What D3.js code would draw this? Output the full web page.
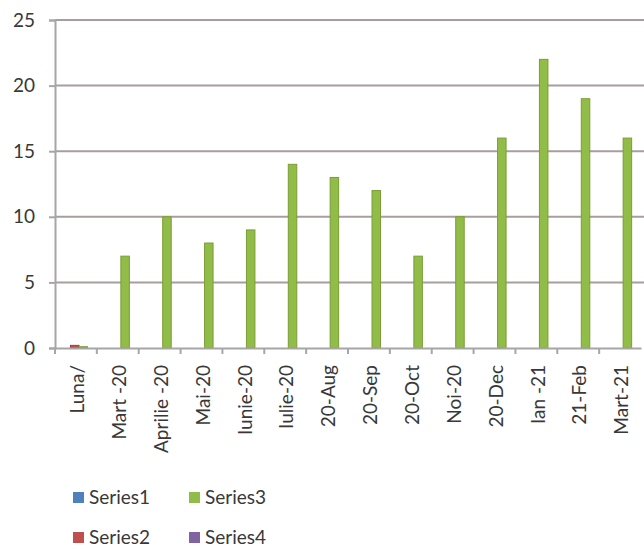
<!DOCTYPE html>
<html>
<head>
<meta charset="utf-8">
<script src="https://cdn.jsdelivr.net/npm/d3@7"></script>
<style>
  body { margin: 0; background: #fff; }
  svg { display: block; font-family: Lato, 'Open Sans', sans-serif; }
</style>
</head>
<body>
<svg width="644" height="549"></svg>
<script>
// categories as written on the axis
let months = ['Luna/', 'Mart -20', 'Aprilie -20', 'Mai-20', 'Iunie-20', 'Iulie-20', '20-Aug',
  '20-Sep', '20-Oct', 'Noi-20', '20-Dec', 'Ian -21', '21-Feb', 'Mart-21']
let seriesNames = ['Series1', 'Series2', 'Series3', 'Series4']
let series1 = [0, 0, 0, 0, 0, 0, 0, 0, 0, 0, 0, 0, 0, 0]
let series2 = [0.2, 0, 0, 0, 0, 0, 0, 0, 0, 0, 0, 0, 0, 0]
let series3 = [0.1, 7, 10, 8, 9, 14, 13, 12, 7, 10, 16, 22, 19, 16]
let series4 = [0, 0, 0, 0, 0, 0, 0, 0, 0, 0, 0, 0, 0, 0]
let yTicks = [0, 5, 10, 15, 20, 25]

let colors = { Series1: '#4f81bd', Series2: '#c0504d', Series3: '#92bc48', Series4: '#8064a2' }
let strokes = { Series1: '#41699b', Series2: '#a13f3c', Series3: '#7a9e35', Series4: '#6a5287' }

let allSeries = [series1, series2, series3, series4]
let rows = months.map((m, i) => ({
  month: m,
  values: seriesNames.map((s, j) => ({ key: s, value: allSeries[j][i] }))
}))

let svg = d3.select('svg')
let margin = { left: 55, top: 20 }
let textColor = '#383838'
let axisColor = '#a6a6a6'

let xScale = d3.scaleBand()
  .domain(months)
  .range([margin.left, 641])

let innerScale = d3.scaleBand()
  .domain(seriesNames)
  .range([7, 41])

let yScale = d3.scaleLinear()
  .domain([0, 25])
  .range([348, margin.top])

// gridlines
svg.append('g')
  .selectAll('line')
  .data(yTicks.filter(d => d > 0))
  .enter()
  .append('line')
  .attr('x1', margin.left)
  .attr('x2', 644)
  .attr('y1', d => yScale(d))
  .attr('y2', d => yScale(d))
  .attr('stroke', '#a99e9e')
  .attr('stroke-width', 2)

// bars
svg.append('g')
  .selectAll('g')
  .data(rows)
  .enter()
  .append('g')
  .attr('transform', d => `translate(${xScale(d.month)},0)`)
  .selectAll('rect')
  .data(d => d.values.filter(v => v.value > 0))
  .enter()
  .append('rect')
  .attr('x', d => innerScale(d.key))
  .attr('width', innerScale.bandwidth())
  .attr('y', d => yScale(d.value))
  .attr('height', d => yScale(0) - yScale(d.value))
  .attr('fill', d => colors[d.key])
  .attr('stroke', d => strokes[d.key])
  .attr('stroke-width', 1)

// y axis
let yAxis = svg.append('g')
  .attr('transform', `translate(${margin.left},0)`)
  .call(d3.axisLeft(yScale).tickValues(yTicks).tickSize(6).tickPadding(14))
yAxis.select('.domain').attr('stroke', axisColor).attr('stroke-width', 2)
yAxis.selectAll('.tick line').attr('stroke', axisColor).attr('stroke-width', 2)
yAxis.selectAll('text')
  .attr('font-size', 19)
  .attr('fill', textColor)
  .attr('font-family', 'Lato, sans-serif')

// x axis
let xAxis = svg.append('g')
  .attr('transform', `translate(0,${yScale(0)})`)
  .call(d3.axisBottom(xScale).tickSize(0).tickPadding(0))
xAxis.select('.domain').attr('stroke', axisColor).attr('stroke-width', 2)
xAxis.selectAll('.tick text')
  .attr('transform', 'rotate(-90)')
  .attr('text-anchor', 'end')
  .attr('dy', '0.38em')
  .attr('x', -17)
  .attr('y', 1)
  .attr('font-size', 19)
  .attr('fill', textColor)
  .attr('font-family', 'Lato, sans-serif')

// tick marks between categories
svg.append('g')
  .selectAll('line')
  .data(months)
  .enter()
  .append('line')
  .attr('x1', d => xScale(d))
  .attr('x2', d => xScale(d))
  .attr('y1', yScale(0))
  .attr('y2', yScale(0) + 6)
  .attr('stroke', axisColor)
  .attr('stroke-width', 2)

// legend
let legendPos = [
  { key: 'Series1', x: 73, y: 497 },
  { key: 'Series2', x: 73, y: 537 },
  { key: 'Series3', x: 189, y: 497 },
  { key: 'Series4', x: 189, y: 537 }
]
let legend = svg.append('g')
  .selectAll('g')
  .data(legendPos)
  .enter()
  .append('g')
  .attr('transform', d => `translate(${d.x},${d.y})`)
legend.append('rect')
  .attr('x', 0)
  .attr('y', -5)
  .attr('width', 11)
  .attr('height', 11)
  .attr('fill', d => colors[d.key])
legend.append('text')
  .attr('x', 16)
  .attr('dy', '0.36em')
  .attr('font-size', 19)
  .attr('fill', textColor)
  .text(d => d.key)
</script>
</body>
</html>
